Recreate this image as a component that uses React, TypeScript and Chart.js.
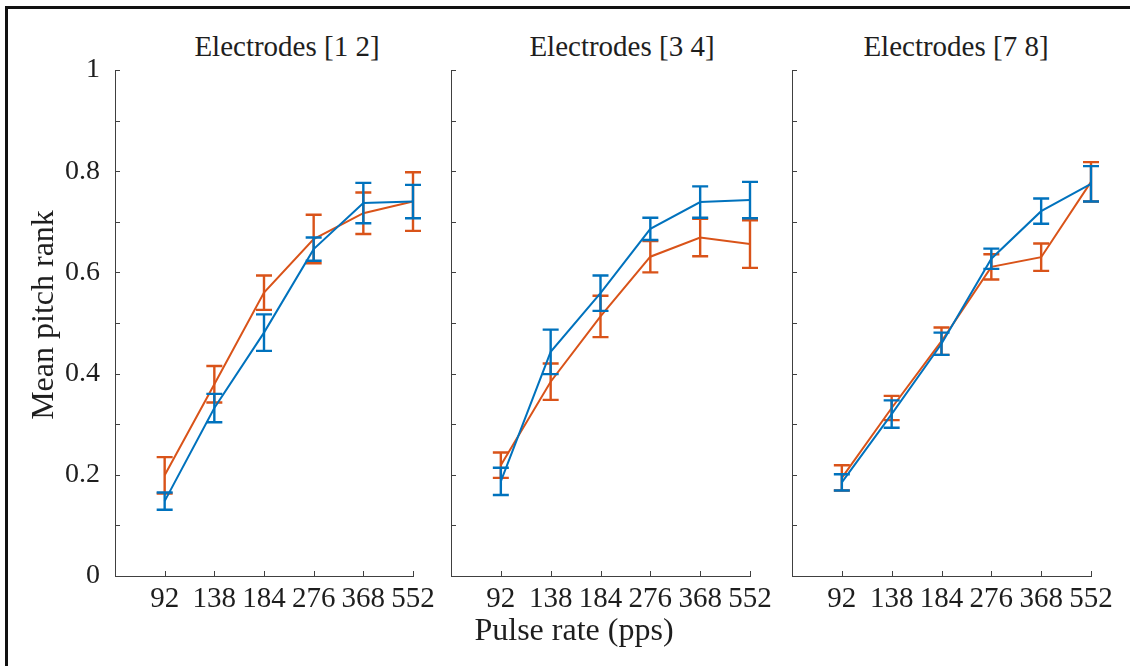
import React, { useEffect, useRef } from 'react';
import { Chart, registerables } from 'chart.js';

Chart.register(...registerables);

// ---- data ----
const pulseRates = ['92', '138', '184', '276', '368', '552'];
const panelTitles = ['Electrodes [1 2]', 'Electrodes [3 4]', 'Electrodes [7 8]'];
const yAxisLabel = 'Mean pitch rank';
const xAxisLabel = 'Pulse rate (pps)';

const e12Blue = [0.148, 0.332, 0.481, 0.646, 0.737, 0.740];
const e12BlueErr = [0.017, 0.028, 0.036, 0.023, 0.040, 0.033];
const e12Orange = [0.199, 0.379, 0.560, 0.666, 0.717, 0.740];
const e12OrangeErr = [0.036, 0.036, 0.034, 0.048, 0.041, 0.058];

const e34Blue = [0.187, 0.443, 0.559, 0.686, 0.739, 0.743];
const e34BlueErr = [0.027, 0.044, 0.035, 0.022, 0.031, 0.036];
const e34Orange = [0.219, 0.384, 0.513, 0.631, 0.669, 0.656];
const e34OrangeErr = [0.025, 0.036, 0.041, 0.031, 0.037, 0.047];

const e78Blue = [0.185, 0.320, 0.459, 0.627, 0.721, 0.775];
const e78BlueErr = [0.016, 0.027, 0.022, 0.020, 0.025, 0.035];
const e78Orange = [0.194, 0.332, 0.464, 0.611, 0.630, 0.779];
const e78OrangeErr = [0.025, 0.024, 0.027, 0.025, 0.027, 0.039];

const BLUE = '#0072BD';
const ORANGE = '#D95319';
const AXIS = '#404040';
const TEXT = '#1e1e1e';
const FONT = "'Liberation Serif', 'Times New Roman', serif";

const panels = [
  { blue: e12Blue, blueErr: e12BlueErr, orange: e12Orange, orangeErr: e12OrangeErr, left: 115, right: 413, showY: true, titleX: 287 },
  { blue: e34Blue, blueErr: e34BlueErr, orange: e34Orange, orangeErr: e34OrangeErr, left: 451, right: 750, showY: false, titleX: 622 },
  { blue: e78Blue, blueErr: e78BlueErr, orange: e78Orange, orangeErr: e78OrangeErr, left: 792, right: 1091, showY: false, titleX: 956 },
];

const W = 1130;
const H = 666;

const errorBarPlugin = {
  id: 'errorBars',
  afterDatasetDraw(chart: any, args: any) {
    const ds = chart.data.datasets[args.index];
    const err: number[] = ds.errors;
    if (!err) return;
    const xs = chart.scales.x;
    const ys = chart.scales.y;
    const ctx = chart.ctx;
    ctx.save();
    ctx.strokeStyle = ds.borderColor;
    ctx.lineWidth = 2.4;
    ds.data.forEach((p: any, i: number) => {
      const x = xs.getPixelForValue(p.x);
      const y1 = ys.getPixelForValue(p.y - err[i]);
      const y2 = ys.getPixelForValue(p.y + err[i]);
      ctx.beginPath();
      ctx.moveTo(x, y1);
      ctx.lineTo(x, y2);
      ctx.moveTo(x - 8, y1);
      ctx.lineTo(x + 8, y1);
      ctx.moveTo(x - 8, y2);
      ctx.lineTo(x + 8, y2);
      ctx.stroke();
    });
    ctx.restore();
  },
};

const innerTicksPlugin = {
  id: 'innerTicks',
  afterDraw(chart: any) {
    const { ctx, chartArea } = chart;
    const xs = chart.scales.x;
    const ys = chart.scales.y;
    ctx.save();
    ctx.strokeStyle = AXIS;
    ctx.lineWidth = 1;
    ctx.beginPath();
    xs.ticks.forEach((t: any) => {
      if (t.value < 1) return;
      const x = Math.round(xs.getPixelForValue(t.value)) + 0.5;
      ctx.moveTo(x, chartArea.bottom);
      ctx.lineTo(x, chartArea.bottom - 5);
    });
    ys.ticks.forEach((t: any) => {
      const y = Math.round(ys.getPixelForValue(t.value)) + 0.5;
      ctx.moveTo(chartArea.left, y);
      ctx.lineTo(chartArea.left + 5, y);
    });
    ctx.stroke();
    ctx.restore();
  },
};

function Panel({ idx }: { idx: number }) {
  const ref = useRef<HTMLCanvasElement | null>(null);
  useEffect(() => {
    const p = panels[idx];
    const yW = p.showY ? 115 : 10;
    const toPts = (arr: number[]) => arr.map((v, i) => ({ x: i + 1, y: v }));
    const chart = new Chart(ref.current as HTMLCanvasElement, {
      type: 'line',
      data: {
        datasets: [
          {
            data: toPts(p.blue),
            errors: p.blueErr,
            borderColor: BLUE,
            backgroundColor: BLUE,
            borderWidth: 2,
            pointRadius: 0,
            tension: 0,
          } as any,
          {
            data: toPts(p.orange),
            errors: p.orangeErr,
            borderColor: ORANGE,
            backgroundColor: ORANGE,
            borderWidth: 2,
            pointRadius: 0,
            tension: 0,
          } as any,
        ],
      },
      options: {
        animation: false,
        responsive: false,
        events: [],
        layout: {
          autoPadding: false,
          padding: { left: p.left - yW, right: W - p.right, top: 70, bottom: 0 },
        },
        plugins: {
          legend: { display: false },
          tooltip: { enabled: false },
          title: { display: false },
        },
        scales: {
          x: {
            type: 'linear',
            min: 0,
            max: 6,
            grid: { display: false, drawTicks: false },
            border: { display: true, color: AXIS, width: 1 },
            ticks: {
              stepSize: 1,
              autoSkip: false,
              maxRotation: 0,
              padding: 6,
              color: TEXT,
              font: { family: FONT, size: 29 },
              callback: (v: any) => (v >= 1 && v <= 6 ? pulseRates[Math.round(v) - 1] : ''),
            },
            afterFit: (s: any) => {
              s.height = 90;
            },
          },
          y: {
            type: 'linear',
            min: 0,
            max: 1,
            grid: { display: false, drawTicks: false },
            border: { display: true, color: AXIS, width: 1 },
            ticks: {
              display: p.showY,
              stepSize: 0.1,
              autoSkip: false,
              padding: 15,
              color: TEXT,
              font: { family: FONT, size: 28 },
              callback: (v: any) => {
                const k = Math.round(v * 10);
                return k % 2 === 0 ? String(k / 10) : '';
              },
            },
            afterFit: (s: any) => {
              s.width = yW;
            },
          },
        },
      } as any,
      plugins: [errorBarPlugin, innerTicksPlugin],
    });
    return () => chart.destroy();
  }, [idx]);
  return (
    <canvas
      ref={ref}
      width={W}
      height={H}
      style={{ position: 'absolute', left: 0, top: 0, width: W, height: H }}
    />
  );
}

const textStyle = (size: number): React.CSSProperties => ({
  position: 'absolute',
  textAlign: 'center',
  fontFamily: FONT,
  fontSize: size,
  lineHeight: size + 'px',
  color: TEXT,
  whiteSpace: 'nowrap',
});

export default function App() {
  return (
    <div
      style={{
        position: 'absolute',
        left: 0,
        top: 0,
        width: W,
        height: H,
        background: '#fff',
        overflow: 'hidden',
      }}
    >
      <div
        style={{
          position: 'absolute',
          left: 5,
          top: 6,
          width: W,
          height: H,
          borderLeft: '3px solid #111',
          borderTop: '3px solid #111',
        }}
      />
      {panels.map((p, i) => (
        <div key={'t' + i} style={{ ...textStyle(29), left: p.titleX - 150, top: 32, width: 300 }}>
          {panelTitles[i]}
        </div>
      ))}
      {panels.map((_, i) => (
        <Panel key={'p' + i} idx={i} />
      ))}
      <div style={{ ...textStyle(32), left: 574 - 200, top: 613, width: 400 }}>{xAxisLabel}</div>
      <div
        style={{
          ...textStyle(32),
          left: 42 - 150,
          top: 315 - 16,
          width: 300,
          transform: 'rotate(-90deg)',
          transformOrigin: '50% 50%',
        }}
      >
        {yAxisLabel}
      </div>
    </div>
  );
}
